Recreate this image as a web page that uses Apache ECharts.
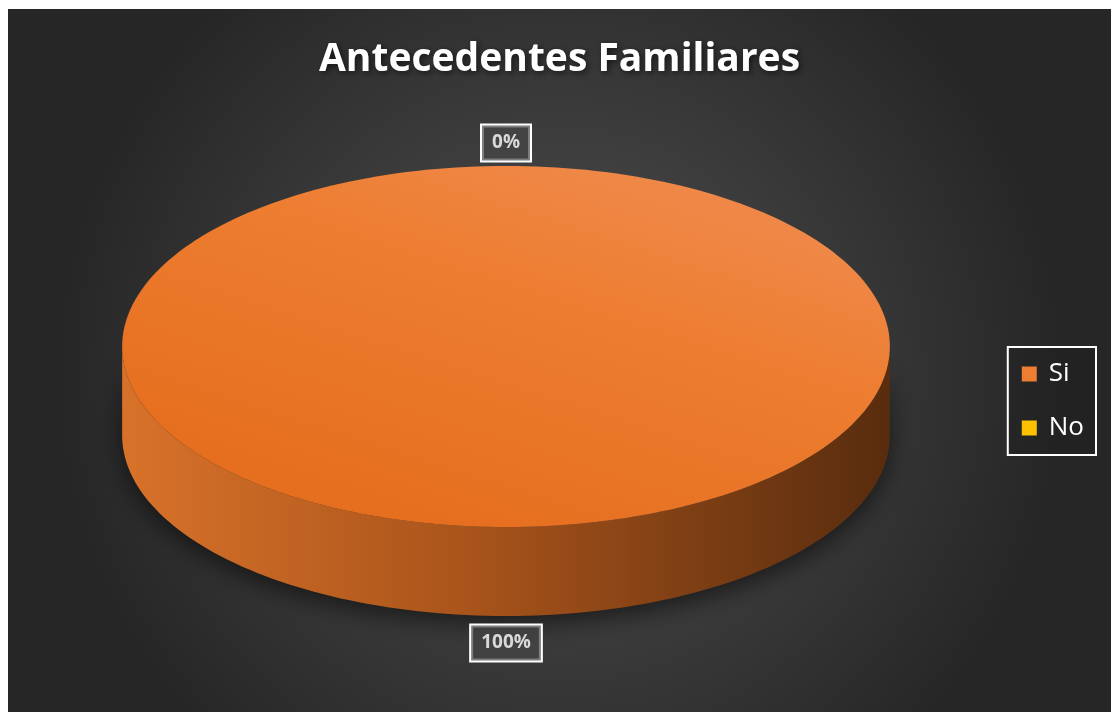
<!DOCTYPE html>
<html>
<head>
<meta charset="utf-8">
<script src="https://cdn.jsdelivr.net/npm/echarts@6/dist/echarts.min.js"></script>
<style>
html,body{margin:0;padding:0;background:#fff;width:1111px;height:712px;overflow:hidden;}
#chart{position:absolute;left:8px;top:9px;width:1103px;height:703px;}
</style>
</head>
<body>
<div id="chart"></div>
<script>
const titleText = 'Antecedentes Familiares';
const categories = ['Si', 'No'];
const values = [100, 0];
const colors = ['#ED7D31', '#FFC000'];

const total = values.reduce((a, b) => a + b, 0);

function ellipsePts(cx, cy, rx, ry, a0, a1, dy, n) {
  const pts = [];
  for (let i = 0; i <= n; i++) {
    const t = a0 + (a1 - a0) * i / n;
    pts.push([cx + rx * Math.sin(t), cy - ry * Math.cos(t) + dy]);
  }
  return pts;
}

function renderSlice(params, api) {
  const v = api.value(0), start = api.value(1), tot = api.value(2);
  const W = api.getWidth(), H = api.getHeight();
  const cx = W * 0.4515, cy = H * 0.480, rx = W * 0.348, ry = H * 0.2568, depth = H * 0.1266;
  const a0 = start / tot * Math.PI * 2, a1 = (start + v) / tot * Math.PI * 2;
  const children = [];
  const idx = params.seriesIndex;
  if (v > 0) {
    const s0 = Math.max(a0, Math.PI / 2), s1 = Math.min(a1, Math.PI * 1.5);
    if (s1 > s0) {
      const topEdge = ellipsePts(cx, cy, rx, ry, s0, s1, 0, 120);
      const botEdge = ellipsePts(cx, cy, rx, ry, s1, s0, depth, 120);
      children.push({
        type: 'polygon',
        shape: { points: topEdge.concat(botEdge) },
        style: {
          fill: {
            type: 'linear', x: 0, y: 0, x2: 1, y2: 0,
            colorStops: [
              { offset: 0, color: '#D8722A' },
              { offset: 0.45, color: '#A9541B' },
              { offset: 1, color: '#582C0E' }
            ]
          },
          shadowBlur: 25, shadowColor: 'rgba(0,0,0,0.55)', shadowOffsetY: 8
        }
      });
    }
    let pts = ellipsePts(cx, cy, rx, ry, a0, a1, 0, 240);
    if (v < tot) pts = [[cx, cy]].concat(pts);
    children.push({
      type: 'polygon',
      shape: { points: pts },
      style: {
        fill: idx === 0 ? {
          type: 'linear', x: 0.6, y: 0, x2: 0.45, y2: 1,
          colorStops: [
            { offset: 0, color: '#EF8847' },
            { offset: 0.35, color: '#ED7D31' },
            { offset: 1, color: '#E66F1F' }
          ]
        } : colors[idx]
      }
    });
  }
  const m = (a0 + a1) / 2;
  const off = 25;
  const lx = cx + (rx + off) * Math.sin(m);
  const ly = cy - (ry + off) * Math.cos(m) + (Math.cos(m) < 0 ? depth : 0) + 2;
  children.push({
    type: 'text',
    x: lx, y: ly,
    z2: 10,
    style: {
      text: Math.round(v / tot * 100) + '%',
      fill: '#d9d9d9',
      fontSize: 19,
      fontWeight: 'bold',
      fontFamily: 'Open Sans',
      align: 'center',
      verticalAlign: 'middle',
      backgroundColor: 'rgba(70,70,70,0.7)',
      borderColor: '#ffffff',
      borderWidth: 2,
      padding: [8, 10]
    }
  });
  return { type: 'group', children };
}

let acc = 0;
const series = categories.map((name, i) => {
  const s = {
    name,
    type: 'custom',
    coordinateSystem: 'none',
    renderItem: renderSlice,
    itemStyle: { color: colors[i] },
    data: [[values[i], acc, total]],
    z: 2
  };
  acc += values[i];
  return s;
});

const chart = echarts.init(document.getElementById('chart'));
chart.setOption({
  animation: false,
  backgroundColor: {
    type: 'radial', x: 0.5, y: 0.52, r: 0.72,
    colorStops: [
      { offset: 0, color: '#515151' },
      { offset: 1, color: '#262626' }
    ]
  },
  title: {
    text: titleText,
    left: 'center',
    top: 26,
    textStyle: {
      color: '#ffffff',
      fontSize: 39,
      fontWeight: 'bold',
      fontFamily: 'Open Sans',
      textShadowColor: 'rgba(0,0,0,0.6)',
      textShadowBlur: 6,
      textShadowOffsetX: 2,
      textShadowOffsetY: 2
    }
  },
  legend: {
    data: categories,
    orient: 'vertical',
    right: 15,
    top: 338,
    icon: 'rect',
    itemWidth: 15,
    itemHeight: 15,
    itemGap: 28,
    padding: [14, 12, 14, 14],
    borderColor: '#ffffff',
    borderWidth: 2,
    backgroundColor: 'rgba(30,30,30,0.35)',
    textStyle: { color: '#ffffff', fontSize: 26, fontFamily: 'Open Sans', padding: [0, 0, 0, 7] }
  },
  series
});
</script>
</body>
</html>
